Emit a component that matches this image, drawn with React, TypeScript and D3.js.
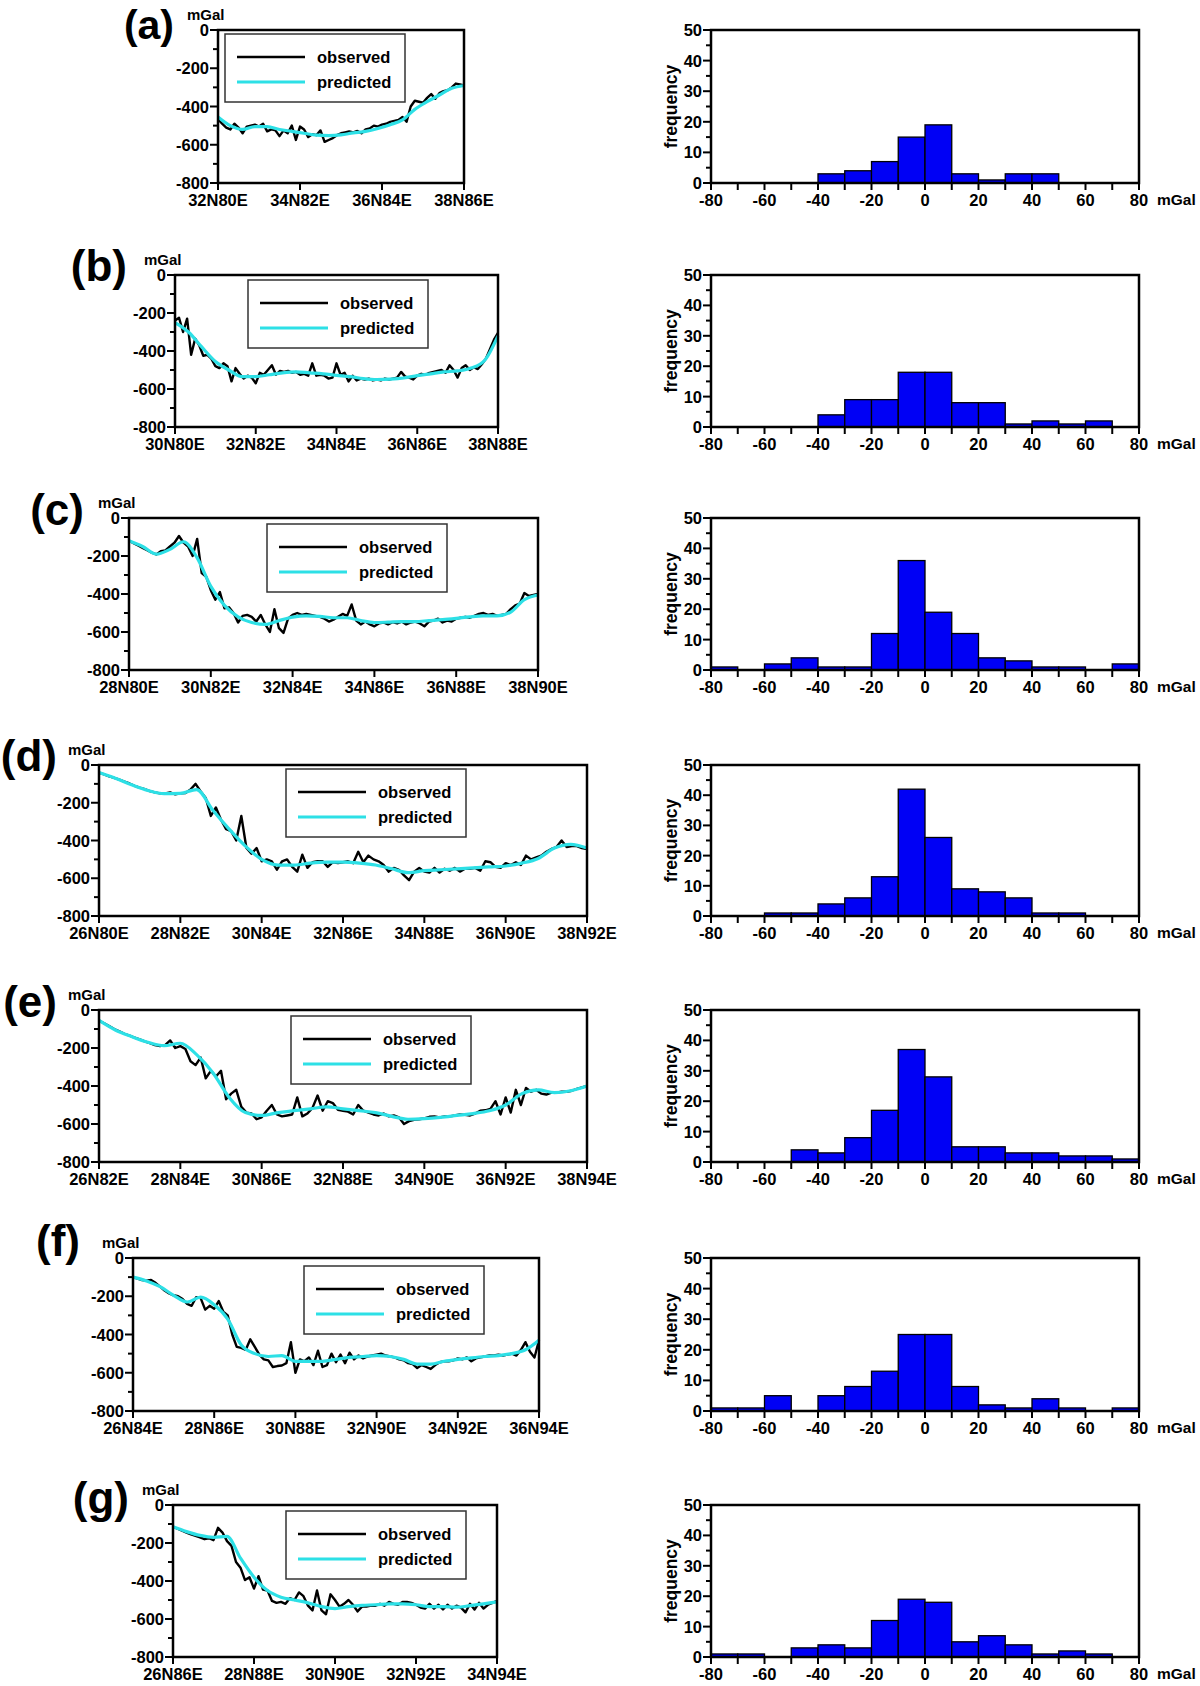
import * as d3 from 'd3';

const FONT = '"Liberation Sans", Arial, Helvetica, sans-serif';
const CYAN = '#2de0e6';
const BLUE = '#0000f5';

// profile tick labels
const ticksA = ['32N80E', '34N82E', '36N84E', '38N86E'];
const ticksB = ['30N80E', '32N82E', '34N84E', '36N86E', '38N88E'];
const ticksC = ['28N80E', '30N82E', '32N84E', '34N86E', '36N88E', '38N90E'];
const ticksD = ['26N80E', '28N82E', '30N84E', '32N86E', '34N88E', '36N90E', '38N92E'];
const ticksE = ['26N82E', '28N84E', '30N86E', '32N88E', '34N90E', '36N92E', '38N94E'];
const ticksF = ['26N84E', '28N86E', '30N88E', '32N90E', '34N92E', '36N94E'];
const ticksG = ['26N86E', '28N88E', '30N90E', '32N92E', '34N94E'];

// observed / predicted gravity along each profile (mGal), evenly spaced samples
const obsA = [-465, -490, -510, -520, -490, -510, -540, -505, -500, -495, -505, -490, -530, -520, -525, -555, -525, -540, -500, -575,
  -505, -520, -560, -545, -550, -525, -585, -575, -565, -550, -540, -535, -530, -535, -528, -540, -520, -515, -500, -505,
  -495, -490, -480, -475, -470, -455, -480, -400, -370, -375, -380, -355, -335, -360, -330, -320, -315, -300, -280, -285, -290];
const predA = [-455, -500, -520, -505, -505, -520, -530, -540, -550, -552, -548, -538, -530, -515, -495, -470, -415, -375, -340, -305, -290];

const obsB = [-240, -225, -300, -230, -420, -335, -370, -425, -420, -440, -480, -490, -465, -480, -560, -490, -520, -545, -530, -540,
  -570, -515, -525, -500, -475, -525, -505, -510, -505, -515, -510, -525, -520, -530, -465, -530, -525, -530, -545, -540,
  -465, -525, -515, -560, -530, -555, -545, -550, -545, -555, -550, -555, -545, -550, -545, -540, -510, -535, -540, -550,
  -530, -520, -525, -515, -510, -505, -500, -515, -475, -500, -540, -490, -475, -500, -485, -495, -470, -440, -390, -340, -305];
const predB = [-250, -300, -380, -455, -500, -535, -535, -525, -515, -510, -515, -520, -528, -535, -545, -550, -548, -542, -530, -520,
  -510, -505, -490, -450, -320];

const obsC = [-120, -132, -145, -157, -170, -182, -192, -175, -170, -150, -130, -95, -130, -150, -200, -110, -290, -310, -380, -430,
  -390, -475, -470, -500, -550, -515, -510, -520, -545, -510, -560, -600, -480, -580, -605, -530, -510, -500, -510, -505,
  -510, -515, -520, -530, -545, -535, -520, -505, -515, -455, -540, -560, -545, -560, -570, -555, -550, -560, -548, -555,
  -545, -560, -550, -545, -555, -570, -545, -540, -530, -550, -540, -545, -530, -525, -520, -525, -515, -505, -500, -510,
  -505, -515, -510, -505, -480, -460, -450, -395, -410, -405, -400];
const predC = [-120, -150, -190, -165, -125, -210, -360, -460, -520, -550, -560, -540, -522, -515, -518, -525, -525, -540, -550, -548,
  -545, -545, -540, -535, -528, -520, -515, -515, -495, -430, -405];

const obsD = [-40, -50, -60, -68, -78, -88, -98, -110, -120, -128, -138, -145, -150, -150, -145, -155, -150, -148, -130, -100,
  -140, -175, -270, -225, -290, -340, -350, -400, -270, -440, -470, -440, -510, -500, -510, -555, -510, -500, -540, -565,
  -475, -545, -515, -510, -510, -540, -515, -520, -515, -510, -520, -460, -515, -480, -500, -510, -530, -565, -545, -555,
  -585, -610, -565, -545, -565, -570, -545, -570, -550, -560, -545, -565, -550, -550, -545, -560, -510, -515, -540, -545,
  -520, -530, -515, -530, -480, -500, -490, -480, -460, -445, -435, -400, -435, -430, -430, -440, -445];
const predD = [-40, -70, -105, -135, -152, -150, -130, -240, -340, -430, -500, -530, -530, -520, -515, -515, -520, -530, -550, -570,
  -560, -555, -550, -545, -540, -535, -520, -495, -440, -420, -440];

const obsE = [-55, -70, -85, -100, -112, -125, -135, -145, -155, -165, -175, -185, -190, -185, -160, -200, -190, -205, -270, -290,
  -250, -360, -320, -350, -320, -470, -440, -420, -510, -540, -545, -575, -565, -530, -500, -550, -560, -555, -550, -460,
  -560, -545, -515, -450, -530, -480, -490, -525, -530, -535, -550, -500, -530, -540, -550, -555, -545, -560, -555, -565,
  -600, -585, -578, -575, -570, -562, -560, -565, -560, -560, -555, -550, -552, -555, -545, -530, -528, -520, -480, -550,
  -460, -540, -420, -500, -410, -430, -420, -440, -445, -435, -435, -430, -430, -425, -415, -408, -400];
const predE = [-55, -105, -140, -170, -188, -175, -235, -330, -460, -540, -555, -540, -530, -520, -510, -520, -530, -540, -560, -575,
  -572, -565, -555, -545, -530, -500, -440, -420, -435, -425, -400];

const obsF = [-100, -108, -115, -118, -115, -130, -150, -170, -185, -195, -200, -215, -240, -250, -205, -210, -270, -250, -265, -225,
  -280, -300, -400, -465, -470, -480, -425, -465, -505, -530, -535, -570, -565, -562, -550, -440, -600, -530, -540, -520,
  -560, -485, -570, -560, -500, -545, -505, -550, -495, -530, -510, -525, -515, -510, -505, -500, -510, -515, -520, -530,
  -535, -550, -555, -575, -560, -570, -580, -560, -545, -540, -540, -535, -525, -530, -520, -540, -525, -520, -515, -510,
  -510, -505, -510, -505, -500, -510, -480, -440, -490, -520, -430];
const predF = [-100, -120, -150, -195, -230, -205, -245, -320, -455, -500, -515, -510, -540, -540, -540, -530, -520, -515, -510, -515,
  -530, -555, -555, -540, -530, -522, -515, -510, -500, -480, -430];

const obsG = [-115, -125, -135, -145, -155, -162, -170, -180, -175, -185, -120, -145, -190, -215, -300, -330, -395, -380, -440, -375,
  -445, -450, -505, -515, -510, -520, -490, -500, -460, -480, -530, -555, -450, -555, -575, -470, -500, -535, -520, -500,
  -525, -560, -535, -535, -530, -530, -520, -530, -510, -520, -525, -510, -510, -515, -525, -540, -545, -520, -545, -525,
  -550, -525, -545, -530, -540, -565, -520, -550, -515, -545, -525, -515, -505];
const predG = [-115, -140, -160, -170, -165, -280, -380, -450, -485, -500, -515, -535, -545, -535, -528, -525, -520, -520, -525, -535,
  -535, -538, -530, -520, -510];

// residual histograms, bins of 10 mGal from -80 to 80
const binStarts = [-80, -70, -60, -50, -40, -30, -20, -10, 0, 10, 20, 30, 40, 50, 60, 70];
const histA = [0, 0, 0, 0, 3, 4, 7, 15, 19, 3, 1, 3, 3, 0, 0, 0];
const histB = [0, 0, 0, 0, 4, 9, 9, 18, 18, 8, 8, 1, 2, 1, 2, 0];
const histC = [1, 0, 2, 4, 1, 1, 12, 36, 19, 12, 4, 3, 1, 1, 0, 2];
const histD = [0, 0, 1, 1, 4, 6, 13, 42, 26, 9, 8, 6, 1, 1, 0, 0];
const histE = [0, 0, 0, 4, 3, 8, 17, 37, 28, 5, 5, 3, 3, 2, 2, 1];
const histF = [1, 1, 5, 0, 5, 8, 13, 25, 25, 8, 2, 1, 4, 1, 0, 1];
const histG = [1, 1, 0, 3, 4, 3, 12, 19, 18, 5, 7, 4, 1, 2, 1, 0];

const histTicks = [-80, -60, -40, -20, 0, 20, 40, 60, 80];
const panelLabels = ['(a)', '(b)', '(c)', '(d)', '(e)', '(f)', '(g)'];

const panels = [
  { obs: obsA, pred: predA, ticks: ticksA, hist: histA, x0: 218, x1: 464, y0: 30, y1: 183, lg: [225, 34], lab: [174, 39] },
  { obs: obsB, pred: predB, ticks: ticksB, hist: histB, x0: 175, x1: 498, y0: 275, y1: 427, lg: [248, 280], lab: [127, 281] },
  { obs: obsC, pred: predC, ticks: ticksC, hist: histC, x0: 129, x1: 538, y0: 518, y1: 670, lg: [267, 524], lab: [84, 525] },
  { obs: obsD, pred: predD, ticks: ticksD, hist: histD, x0: 99, x1: 587, y0: 765, y1: 916, lg: [286, 769], lab: [57, 771] },
  { obs: obsE, pred: predE, ticks: ticksE, hist: histE, x0: 99, x1: 587, y0: 1010, y1: 1162, lg: [291, 1016], lab: [57, 1017] },
  { obs: obsF, pred: predF, ticks: ticksF, hist: histF, x0: 133, x1: 539, y0: 1258, y1: 1411, lg: [304, 1266], lab: [80, 1256] },
  { obs: obsG, pred: predG, ticks: ticksG, hist: histG, x0: 173, x1: 497, y0: 1505, y1: 1657, lg: [286, 1511], lab: [129, 1513] },
];

const HX0 = 711, HX1 = 1139;

function Profile({ p, label }: { p: typeof panels[number], label: string }) {
  const x = d3.scalePoint<string>().domain(p.ticks).range([p.x0, p.x1]);
  const y = d3.scaleLinear().domain([0, -800]).range([p.y0, p.y1]);
  const xo = d3.scaleLinear().domain([0, p.obs.length - 1]).range([p.x0, p.x1]);
  const xp = d3.scaleLinear().domain([0, p.pred.length - 1]).range([p.x0, p.x1]);
  const lineO = d3.line<number>().x((d, i) => xo(i)).y(d => y(d));
  const lineP = d3.line<number>().x((d, i) => xp(i)).y(d => y(d)).curve(d3.curveMonotoneX);
  const yTicks = d3.range(0, -801, -100);
  const [lx, ly] = p.lg;

  return (
    <g>
      <text x={p.lab[0]} y={p.lab[1]} textAnchor="end" fontSize={label === '(a)' ? 41 : 44} fontWeight="bold">{label}</text>
      <text x={p.x0 - 31} y={p.y0 - 10} fontSize={15} fontWeight="bold">mGal</text>

      {yTicks.map(t => {
        const major = t % 200 === 0;
        return (
          <g key={t}>
            <line x1={p.x0 - (major ? 8 : 5)} x2={p.x0} y1={y(t)} y2={y(t)} stroke="#000" strokeWidth={2} />
            {major && <text x={p.x0 - 9} y={y(t) + 6} textAnchor="end" fontSize={16.5} fontWeight="bold">{t}</text>}
          </g>
        );
      })}
      {p.ticks.map(t => (
        <g key={t}>
          <line x1={x(t)} x2={x(t)} y1={p.y1} y2={p.y1 + 7} stroke="#000" strokeWidth={2} />
          <text x={x(t)} y={p.y1 + 23} textAnchor="middle" fontSize={16.5} fontWeight="bold">{t}</text>
        </g>
      ))}

      <path d={lineO(p.obs) ?? ''} fill="none" stroke="#000" strokeWidth={2.4} strokeLinejoin="round" />
      <path d={lineP(p.pred) ?? ''} fill="none" stroke={CYAN} strokeWidth={3.2} strokeLinejoin="round" />

      <rect x={lx} y={ly} width={180} height={68} fill="#fff" stroke="#333" strokeWidth={1.5} />
      <line x1={lx + 12} x2={lx + 80} y1={ly + 23} y2={ly + 23} stroke="#000" strokeWidth={2.5} />
      <text x={lx + 92} y={ly + 29} fontSize={16.5} fontWeight="bold">observed</text>
      <line x1={lx + 12} x2={lx + 80} y1={ly + 48} y2={ly + 48} stroke={CYAN} strokeWidth={3.2} />
      <text x={lx + 92} y={ly + 54} fontSize={16.5} fontWeight="bold">predicted</text>

      <rect x={p.x0} y={p.y0} width={p.x1 - p.x0} height={p.y1 - p.y0} fill="none" stroke="#000" strokeWidth={2.5} />
    </g>
  );
}

function Histogram({ p }: { p: typeof panels[number] }) {
  const x = d3.scaleLinear().domain([-80, 80]).range([HX0, HX1]);
  const y = d3.scaleLinear().domain([0, 50]).range([p.y1, p.y0]);
  const yTicks = d3.range(0, 51, 5);
  const xTicks = d3.range(-80, 81, 10);

  return (
    <g>
      <text transform={`translate(${HX0 - 34},${(p.y0 + p.y1) / 2}) rotate(-90)`} textAnchor="middle" fontSize={17.5} fontWeight="bold">frequency</text>
      {binStarts.map((b, i) => p.hist[i] > 0 && (
        <rect key={b} x={x(b)} y={y(p.hist[i])} width={x(b + 10) - x(b)} height={y(0) - y(p.hist[i])}
          fill={BLUE} stroke="#000" strokeWidth={1.3} />
      ))}
      {yTicks.map(t => {
        const major = t % 10 === 0;
        return (
          <g key={t}>
            <line x1={HX0 - (major ? 8 : 5)} x2={HX0} y1={y(t)} y2={y(t)} stroke="#000" strokeWidth={2} />
            {major && <text x={HX0 - 9} y={y(t) + 6} textAnchor="end" fontSize={16.5} fontWeight="bold">{t}</text>}
          </g>
        );
      })}
      {xTicks.map(t => (
        <line key={t} x1={x(t)} x2={x(t)} y1={p.y1} y2={p.y1 + 7} stroke="#000" strokeWidth={2} />
      ))}
      {histTicks.map(t => (
        <text key={t} x={x(t)} y={p.y1 + 23} textAnchor="middle" fontSize={16.5} fontWeight="bold">{t}</text>
      ))}
      <text x={HX1 + 18} y={p.y1 + 22} fontSize={15.5} fontWeight="bold">mGal</text>
      <rect x={HX0} y={p.y0} width={HX1 - HX0} height={p.y1 - p.y0} fill="none" stroke="#000" strokeWidth={2.5} />
    </g>
  );
}

export default function App() {
  return (
    <svg width={1200} height={1686} viewBox="0 0 1200 1686"
      style={{ position: 'absolute', left: 0, top: 0, background: '#fff' }} fontFamily={FONT}>
      <rect width={1200} height={1686} fill="#fff" />
      {panels.map((p, i) => (
        <g key={i}>
          <Profile p={p} label={panelLabels[i]} />
          <Histogram p={p} />
        </g>
      ))}
    </svg>
  );
}
